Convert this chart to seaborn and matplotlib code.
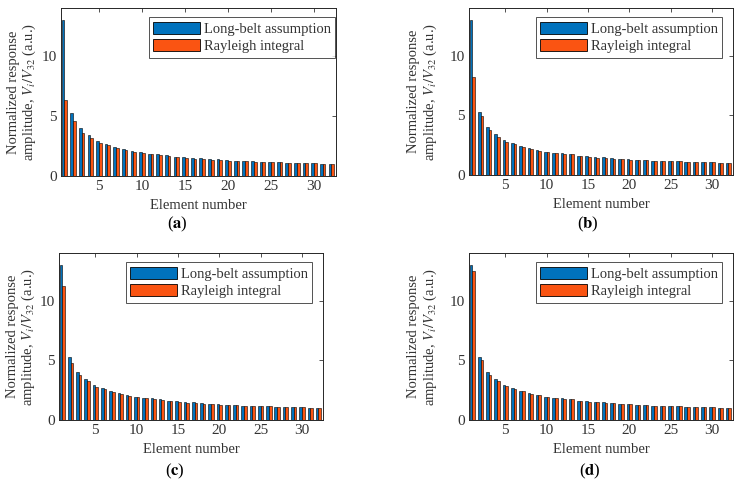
import numpy as np
import pandas as pd
import matplotlib
matplotlib.use("Agg")
import matplotlib.pyplot as plt
import seaborn as sns
from matplotlib.patches import Patch

sns.set_style("white")
plt.rcParams["font.family"] = ["Liberation Serif", "DejaVu Serif"]
plt.rcParams["mathtext.fontset"] = "stix"

# ---------------------------------------------------------------------------
# Data
# ---------------------------------------------------------------------------
elements = list(range(1, 33))

long_belt = [13.0, 5.25, 4.0, 3.4, 2.9, 2.66, 2.42, 2.25, 2.1, 1.97, 1.86, 1.81,
             1.75, 1.62, 1.57, 1.48, 1.47, 1.41, 1.38, 1.31, 1.29, 1.26, 1.21, 1.19,
             1.18, 1.16, 1.09, 1.09, 1.08, 1.08, 1.01, 1.0]

rayleigh_a = [6.33, 4.58, 3.61, 3.19, 2.78, 2.56, 2.36, 2.17, 2.03, 1.92, 1.83, 1.78,
              1.67, 1.58, 1.53, 1.45, 1.43, 1.37, 1.35, 1.28, 1.26, 1.23, 1.18, 1.17,
              1.15, 1.13, 1.07, 1.07, 1.06, 1.05, 1.0, 1.0]
rayleigh_b = [8.25, 4.95, 3.8, 3.22, 2.8, 2.57, 2.38, 2.2, 2.05, 1.93, 1.83, 1.79,
              1.72, 1.59, 1.54, 1.46, 1.44, 1.38, 1.36, 1.29, 1.27, 1.24, 1.19, 1.17,
              1.16, 1.14, 1.07, 1.07, 1.06, 1.06, 1.0, 1.0]
rayleigh_c = [11.2, 4.75, 3.75, 3.25, 2.8, 2.58, 2.38, 2.2, 2.03, 1.93, 1.83, 1.78,
              1.7, 1.6, 1.55, 1.46, 1.44, 1.38, 1.36, 1.29, 1.27, 1.24, 1.19, 1.18,
              1.16, 1.14, 1.08, 1.08, 1.07, 1.06, 1.0, 1.0]
rayleigh_d = [12.5, 5.02, 3.8, 3.28, 2.83, 2.6, 2.4, 2.22, 2.06, 1.95, 1.85, 1.79,
              1.72, 1.61, 1.55, 1.47, 1.45, 1.39, 1.36, 1.3, 1.28, 1.24, 1.2, 1.18,
              1.16, 1.14, 1.08, 1.08, 1.07, 1.06, 1.0, 1.0]

series_names = ["Long-belt assumption", "Rayleigh integral"]
panel_letters = ["a", "b", "c", "d"]
rayleigh_sets = [rayleigh_a, rayleigh_b, rayleigh_c, rayleigh_d]

colors = ["#0072BD", "#FA5412"]
txt = "#333333"

# axes rectangles in pixels (left, top, right, bottom) on a 739x484 canvas
W, H = 739, 484
boxes = [(61, 8, 336, 176), (469, 8, 733, 175), (59, 253, 323, 420), (469, 253, 733, 420)]
ylab_x = [-0.083, -0.115, -0.083, -0.115]
leg_x = [0.996, 0.958, 0.958, 0.958]
cap_pos = [(177, 224), (588, 224), (175, 471), (590, 471)]

fig = plt.figure(figsize=(W / 100, H / 100), dpi=100)

for i, letter in enumerate(panel_letters):
    l, t, r, b = boxes[i]
    ax = fig.add_axes([l / W, 1 - b / H, (r - l) / W, (b - t) / H])

    df = pd.DataFrame({
        "element": elements * 2,
        "value": long_belt + rayleigh_sets[i],
        "method": [series_names[0]] * 32 + [series_names[1]] * 32,
    })
    sns.barplot(data=df, x="element", y="value", hue="method", hue_order=series_names,
                palette=colors, native_scale=True, width=0.64, gap=0, errorbar=None,
                edgecolor="black", linewidth=0.4, saturation=1, legend=False, ax=ax)

    ax.set_xlim(0.6, 32.55)
    ax.set_ylim(0, 14)
    ax.set_xticks([5, 10, 15, 20, 25, 30])
    ax.set_yticks([0, 5, 10])
    ax.tick_params(direction="in", length=3, width=0.6, top=True, right=True,
                   labelsize=11, colors=txt, pad=3)
    for sp in ax.spines.values():
        sp.set_color("#262626")
        sp.set_linewidth(0.7)

    ax.set_xlabel("Element number", fontsize=10.5, color=txt, labelpad=4)
    ax.set_ylabel("Normalized response\namplitude, $V_i/V_{32}$ (a.u.)",
                  fontsize=10.5, color=txt, linespacing=1.1)
    ax.yaxis.set_label_coords(ylab_x[i], 0.5)

    handles = [Patch(facecolor=c, edgecolor="black", linewidth=0.6) for c in colors]
    leg = ax.legend(handles, series_names, loc="upper right",
                    bbox_to_anchor=(leg_x[i], 0.945), fontsize=10.5, frameon=True,
                    fancybox=False, handlelength=3.2, handleheight=0.9,
                    handletextpad=0.25, borderpad=0.3, labelspacing=0.25,
                    borderaxespad=0)
    leg.get_frame().set_edgecolor("#262626")
    leg.get_frame().set_linewidth(0.7)
    for tx in leg.get_texts():
        tx.set_color(txt)

    cx, cy = cap_pos[i]
    fig.text(cx / W, 1 - cy / H, "(" + r"$\mathbf{" + letter + "}$" + ")",
             ha="center", va="center", fontsize=12, color="black")

fig.savefig("out.png", dpi=100)
